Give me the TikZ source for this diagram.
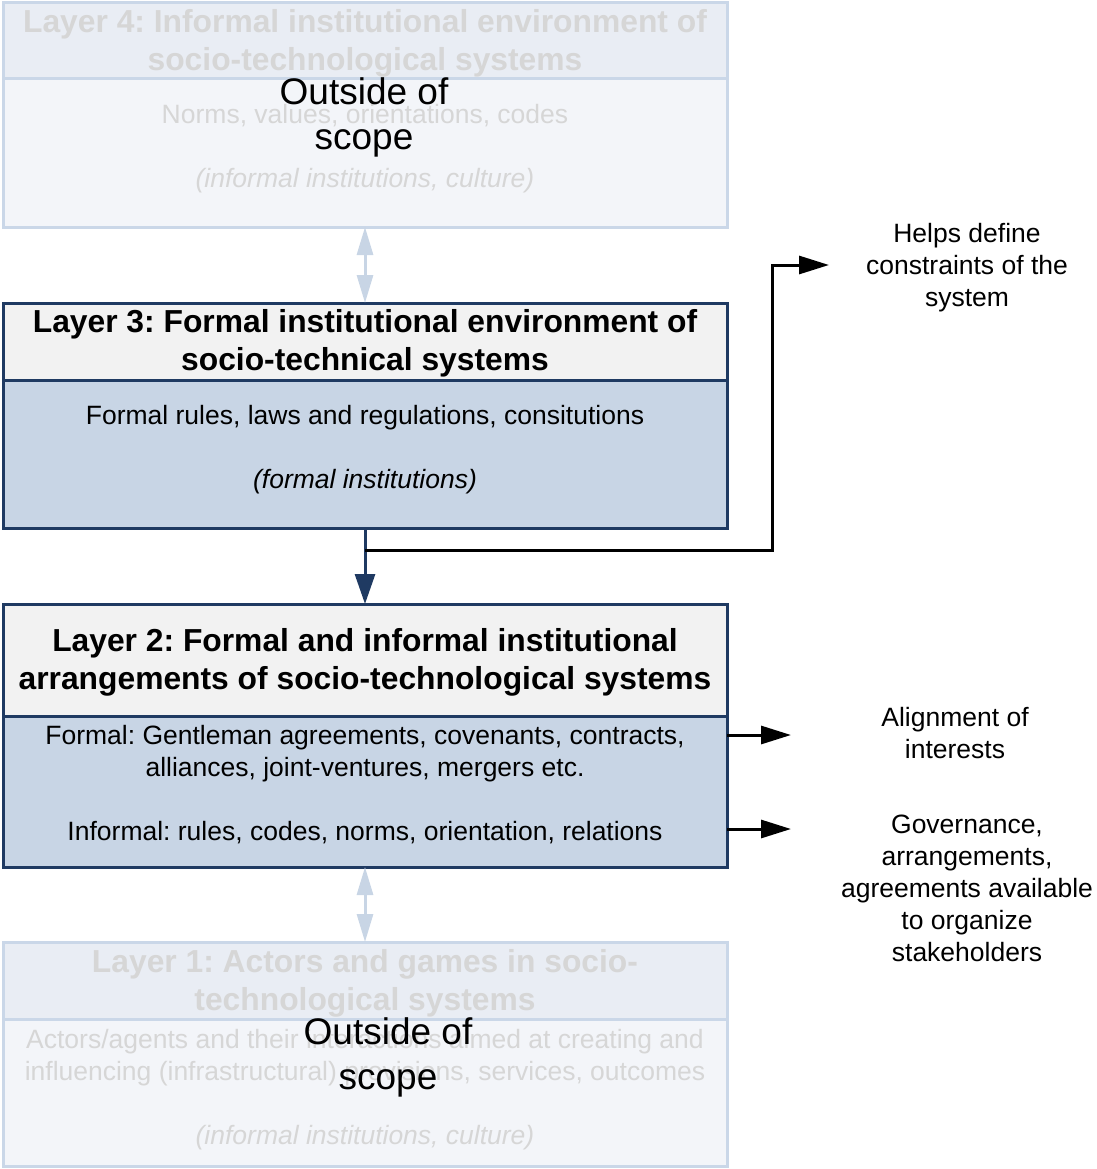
\documentclass[tikz,border=0pt]{standalone}
\usepackage{fontspec}
\setmainfont{Liberation Sans}
\frenchspacing
\usetikzlibrary{arrows.meta}
\definecolor{navy}{HTML}{1F3A62}
\definecolor{bodyfill}{HTML}{C8D5E5}
\definecolor{hdrfill}{HTML}{F2F2F2}
\definecolor{fadeborder}{HTML}{CAD7E8}
\definecolor{fadehdr}{HTML}{E9EDF4}
\definecolor{fadebody}{HTML}{F3F5F9}
\definecolor{fadetext}{HTML}{D6D6D6}
\definecolor{lightarr}{HTML}{C8D5E5}
\tikzset{
  boxbase/.style={draw, rectangle, minimum width=724pt, inner sep=0pt, outer sep=0pt, line width=3pt},
  activehdr/.style={boxbase, draw=navy, fill=hdrfill},
  activebody/.style={boxbase, draw=navy, fill=bodyfill},
  fadehdrbox/.style={boxbase, draw=fadeborder, fill=fadehdr},
  fadebodybox/.style={boxbase, draw=fadeborder, fill=fadebody},
  titletext/.style={align=center, inner sep=0pt, font=\fontsize{31.8}{38}\selectfont\bfseries},
  bodytext/.style={align=center, inner sep=0pt, font=\fontsize{26.5}{32}\selectfont},
  scopetext/.style={align=center, inner sep=0pt, font=\fontsize{37}{45}\selectfont},
  navyarrow/.style={draw=navy, line width=3pt, -{Triangle[length=30pt, width=20pt]}},
  blackarrow/.style={draw=black, line width=3pt, -{Triangle[length=30pt, width=18pt]}},
  lightarrow/.style={draw=lightarr, line width=3pt, {Triangle[length=28pt, width=16pt]}-{Triangle[length=28pt, width=16pt]}},
}
\begin{document}
\begin{tikzpicture}[x=1pt, y=-1pt]
\useasboundingbox (0,0) rectangle (1096,1169);

% Layer 4 (faded)
\node[fadebodybox, minimum height=148pt] (L4b) at (365,153) {};
\node[fadehdrbox, minimum height=76pt] (L4h) at (365,41) {};
\node[titletext, text=fadetext] (L4t) at (365,43) {Layer 4: Informal institutional environment of\\socio-technological systems};
\node[bodytext, text=fadetext] (L4x) at (365,149) {Norms, values, orientations, codes\\\mbox{}\\\itshape (informal institutions, culture)};
\node[scopetext] (L4s) at (364,117) {Outside of\\scope};

% Layer 3
\node[activebody, minimum height=148pt] (L3b) at (365,454) {};
\node[activehdr, minimum height=77pt] (L3h) at (365,341.5) {};
\node[titletext] (L3t) at (365,343) {Layer 3: Formal institutional environment of\\socio-technical systems};
\node[bodytext] (L3x) at (365,450) {Formal rules, laws and regulations, consitutions\\\mbox{}\\\itshape (formal institutions)};

% Layer 2
\node[activebody, minimum height=151pt] (L2b) at (365,791.5) {};
\node[activehdr, minimum height=112pt] (L2h) at (365,660) {};
\node[titletext] (L2t) at (365,662) {Layer 2: Formal and informal institutional\\arrangements of socio-technological systems};
\node[bodytext] (L2x) at (365,785) {Formal: Gentleman agreements, covenants, contracts,\\alliances, joint-ventures, mergers etc.\\\mbox{}\\Informal: rules, codes, norms, orientation, relations};

% Layer 1 (faded)
\node[fadebodybox, minimum height=147pt] (L1b) at (365,1092.5) {};
\node[fadehdrbox, minimum height=77pt] (L1h) at (365,980.5) {};
\node[titletext, text=fadetext] (L1t) at (365,983) {Layer 1: Actors and games in socio-\\technological systems};
\node[bodytext, text=fadetext] (L1x) at (365,1090) {Actors/agents and their interactions aimed at creating and\\influencing (infrastructural) provisions, services, outcomes\\\mbox{}\\\itshape (informal institutions, culture)};
\node[scopetext] (L1s) at (388,1057) {Outside of\\scope};

% Right-hand texts
\node[bodytext] (helps) at (967,268) {Helps define\\constraints of the\\system};
\node[bodytext] (align) at (955,733) {Alignment of\\interests};
\node[bodytext] (gov) at (967,888) {Governance,\\arrangements,\\agreements available\\to organize\\stakeholders};

% Connectors
\draw[lightarrow] (L4b.south) -- (L3h.north);
\draw[lightarrow] (L2b.south) -- (L1h.north);
\draw[navyarrow] (L3b.south) -- (L2h.north);

\coordinate (junction) at (365,550);
\coordinate (corner) at (772,550);
\coordinate (helpsin) at (829,265);
\draw[blackarrow] (junction) -- (corner) |- (helpsin);

\coordinate (alstart) at (727,735);
\coordinate (alend) at (791,735);
\coordinate (govstart) at (727,829);
\coordinate (govend) at (791,829);
\draw[blackarrow] (alstart) -- (alend);
\draw[blackarrow] (govstart) -- (govend);
\end{tikzpicture}
\end{document}
